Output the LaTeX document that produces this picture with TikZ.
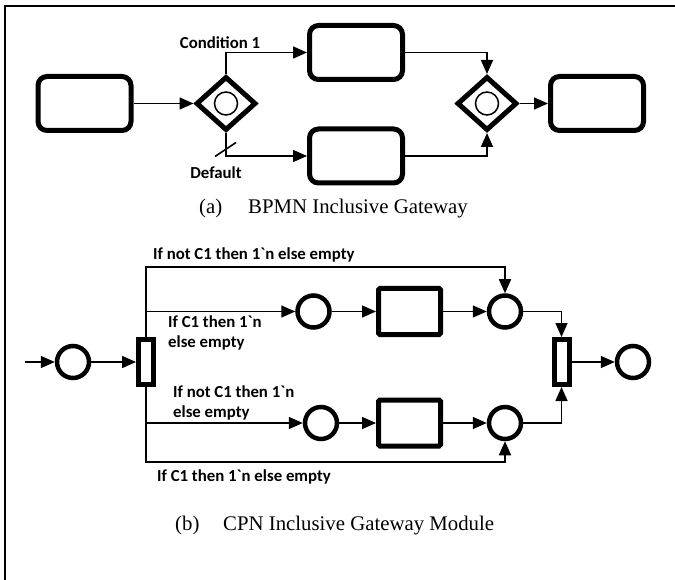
\documentclass[tikz,border=0pt]{standalone}
\usepackage{fontspec}
\setmainfont{Liberation Serif}
\newfontfamily\lblfont{Carlito}[Ligatures=TeXOff]
\usetikzlibrary{shapes.geometric,arrows.meta}

\tikzset{
  task/.style={draw, rectangle, line width=5pt, rounded corners=9pt,
    minimum width=93pt, minimum height=54pt, inner sep=0pt},
  gate/.style={draw, diamond, line width=5pt, minimum width=60pt,
    minimum height=54pt, inner sep=0pt},
  place/.style={draw, circle, line width=4.5pt, minimum size=32pt, inner sep=0pt},
  trans/.style={draw, rectangle, line width=5pt, minimum width=15pt,
    minimum height=45pt, inner sep=0pt},
  cpnbox/.style={draw, rectangle, line width=5pt, rounded corners=1.5pt,
    minimum width=62pt, minimum height=46pt, inner sep=0pt},
  flow/.style={line width=1.6pt, -{Triangle[length=14pt,width=12pt]}},
  lbl/.style={inner sep=0pt, font=\lblfont\bfseries\fontsize{16.8}{20}\selectfont},
  captext/.style={inner sep=0pt, anchor=base west, font=\fontsize{20.8}{24}\selectfont}
}

\begin{document}
\begin{tikzpicture}[x=1pt, y=-1pt]
\useasboundingbox (0,0) rectangle (675,580);

% frame
\draw[line width=2pt] (5,580) -- (5,6.5) -- (675,6.5);

% ---------- (a) BPMN inclusive gateway ----------
\node[task] (t1) at (84.5,103.5) {};
\node[gate] (gw1) at (226,103.5) {};
\node[draw, circle, line width=1.5pt, minimum size=23pt, inner sep=0pt] (gw1c) at (gw1.center) {};
\node[task] (tA) at (356,52.5) {};
\node[task] (tB) at (356,156) {};
\node[gate] (gw2) at (487,103.5) {};
\node[draw, circle, line width=1.5pt, minimum size=23pt, inner sep=0pt] (gw2c) at (gw2.center) {};
\node[task] (t4) at (597,103.5) {};

\draw[flow] (t1) -- (gw1);
\draw[flow] (gw1.north) |- (tA);
\draw[flow] (gw1.south) |- (tB);
\draw[flow] (tA) -| (gw2.north);
\draw[flow] (tB) -| (gw2.south);
\draw[flow] (gw2) -- (t4);
% default-flow slash
\draw[line width=1.6pt] ([shift={(-11,53)}]gw1.center) -- ([shift={(10,39)}]gw1.center);

\node[lbl] (lc1) at (220,43) {Condition 1};
\node[lbl] (ldef) at (216,173) {Default};

\node[captext] (capa1) at (199,214) {(a)};
\node[captext] (capa2) at (248,214) {BPMN Inclusive Gateway};

% ---------- (b) CPN inclusive gateway module ----------
\coordinate (pin) at (25,362);
\node[place] (p0) at (73,362) {};
\node[trans] (tr1) at (146,362) {};
\node[place] (pA) at (313.5,311.5) {};
\node[cpnbox] (rA) at (409.5,311.5) {};
\node[place] (pR1) at (505,311.5) {};
\node[place] (pB) at (321,423) {};
\node[cpnbox] (rB) at (409.5,423) {};
\node[place] (pR2) at (505,423) {};
\node[trans] (tr2) at (561.5,362) {};
\node[place] (pEnd) at (633,362) {};
\coordinate (jTop) at (146,267);
\coordinate (jBot) at (146,462);

\draw[flow] (pin) -- (p0);
\draw[flow] (p0) -- (tr1);
\draw[flow] (tr1.north) -- (jTop) -| (pR1);
\draw[flow] (tr1.north) |- (pA);
\draw[flow] (tr1.south) |- (pB);
\draw[flow] (tr1.south) -- (jBot) -| (pR2);
\draw[flow] (pA) -- (rA);
\draw[flow] (rA) -- (pR1);
\draw[flow] (pB) -- (rB);
\draw[flow] (rB) -- (pR2);
\draw[flow] (pR1) -| (tr2);
\draw[flow] (pR2) -| (tr2);
\draw[flow] (tr2) -- (pEnd);

\node[lbl, anchor=west] (l1) at (153,255) {If not C1 then 1`n else empty};
\node[lbl, anchor=west, align=left] (l2) at (168,333) {If C1 then 1`n\\else empty};
\node[lbl, anchor=west, align=left] (l3) at (173,402.5) {If not C1 then 1`n\\else empty};
\node[lbl, anchor=west] (l4) at (157,477) {If C1 then 1`n else empty};

\node[captext] (capb1) at (175,530) {(b)};
\node[captext] (capb2) at (223,530) {CPN Inclusive Gateway Module};
\end{tikzpicture}
\end{document}
